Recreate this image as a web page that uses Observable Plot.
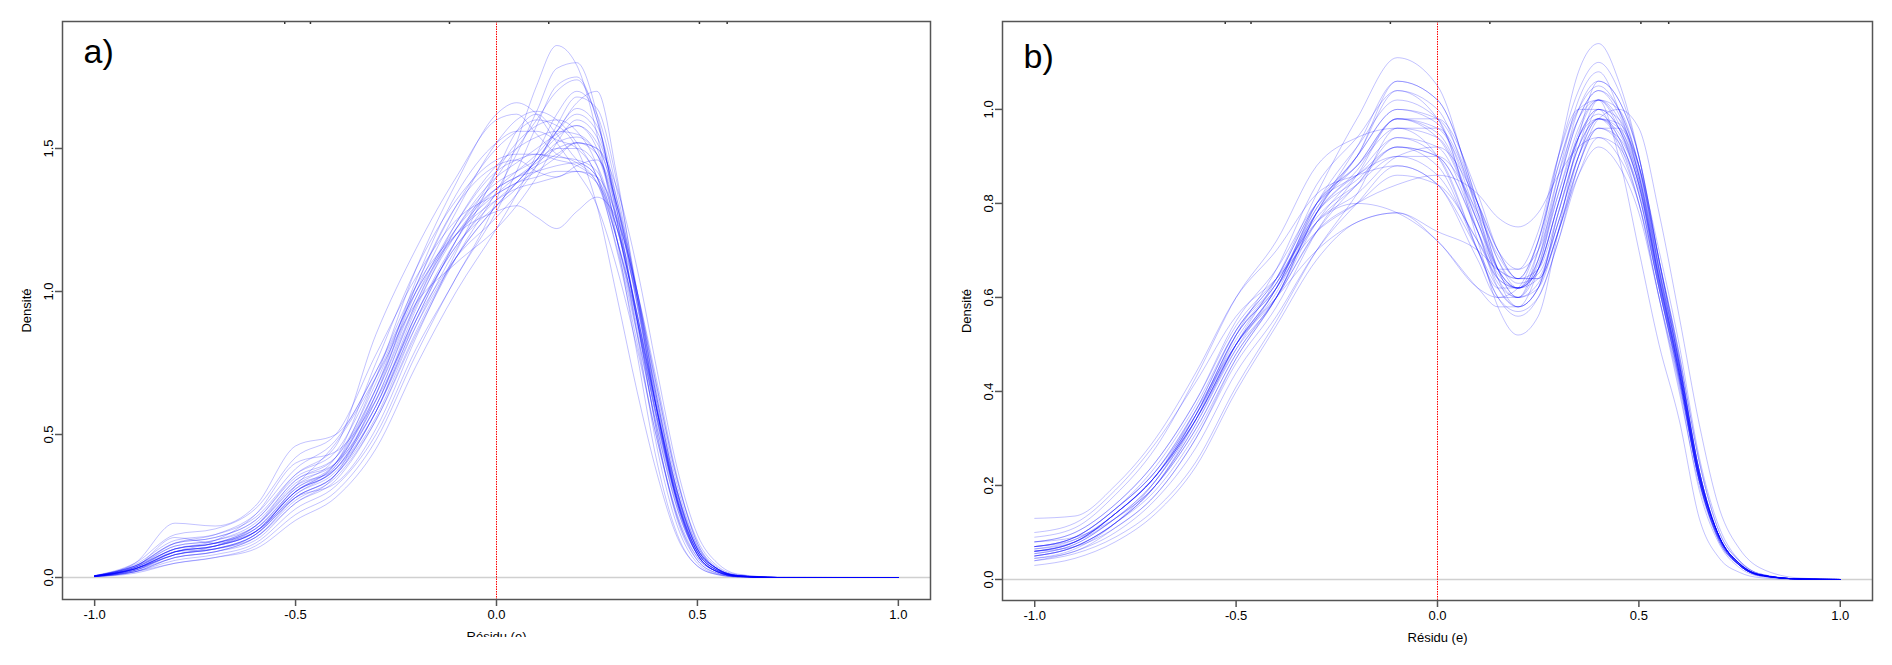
<!DOCTYPE html>
<html><head><meta charset="utf-8">
<script src="https://cdn.jsdelivr.net/npm/d3@7"></script>
<script src="https://cdn.jsdelivr.net/npm/@observablehq/plot@0.6"></script>
<style>
body{margin:0;background:#fff;}
#wrap{position:relative;width:1892px;height:665px;overflow:hidden;background:#fff;}
#pa{position:absolute;left:0;top:0;width:946px;height:637px;overflow:hidden;}
#pb{position:absolute;left:946px;top:0;width:946px;height:665px;overflow:hidden;}
</style></head><body><div id="wrap"><div id="pa"></div><div id="pb"></div></div>
<script>
// ---- shared axis values ----
const xTicks = [-1, -0.5, 0, 0.5, 1];
const xTickLabels = ["-1.0", "-0.5", "0.0", "0.5", "1.0"];
const topMarks = [-0.527, -0.463, -0.117, 0.13, 0.505, 0.574];
const xLabel = "Résidu (e)";
const yLabel = "Densité";

// ---- panel a ----
const yTicksA = [0, 0.5, 1, 1.5];
const yTickLabelsA = ["0.0", "0.5", "1.0", "1.5"];
const residuA = [-1, -0.9, -0.8, -0.7, -0.6, -0.5, -0.4, -0.3, -0.2, -0.1, 0, 0.05, 0.1, 0.15, 0.2, 0.25, 0.3, 0.35, 0.4, 0.45, 0.5, 0.55, 0.6, 0.7, 1.0];
const densitesA = [
  [0.003,0.02,0.06,0.08,0.12,0.24,0.32,0.50,0.80,1.05,1.32,1.52,1.72,1.86,1.79,1.55,1.18,0.78,0.40,0.15,0.04,0.01,0.002,0,0],
  [0.004,0.025,0.07,0.09,0.14,0.27,0.35,0.55,0.85,1.12,1.35,1.48,1.63,1.78,1.80,1.62,1.25,0.85,0.45,0.18,0.05,0.012,0.003,0,0],
  [0.005,0.03,0.08,0.10,0.15,0.28,0.36,0.58,0.90,1.18,1.40,1.50,1.60,1.70,1.74,1.60,1.28,0.90,0.50,0.20,0.06,0.015,0.003,0,0],
  [0.005,0.035,0.10,0.12,0.17,0.30,0.40,0.66,1.00,1.28,1.52,1.60,1.63,1.60,1.52,1.40,1.18,0.88,0.55,0.26,0.08,0.02,0.005,0,0],
  [0.006,0.04,0.12,0.14,0.20,0.36,0.46,0.85,1.15,1.40,1.60,1.62,1.55,1.48,1.45,1.38,1.15,0.85,0.52,0.24,0.08,0.02,0.004,0,0],
  [0.006,0.04,0.12,0.15,0.22,0.38,0.48,0.72,1.02,1.20,1.28,1.30,1.26,1.22,1.28,1.33,1.25,1.00,0.68,0.35,0.12,0.03,0.006,0,0],
  [0.007,0.05,0.15,0.17,0.24,0.42,0.50,0.78,1.05,1.25,1.34,1.38,1.40,1.42,1.42,1.38,1.22,0.98,0.66,0.34,0.12,0.035,0.008,0,0],
  [0.005,0.03,0.09,0.11,0.16,0.30,0.38,0.60,0.94,1.22,1.40,1.45,1.50,1.55,1.58,1.50,1.25,0.92,0.56,0.26,0.09,0.025,0.006,0,0],
  [0.004,0.025,0.08,0.10,0.15,0.29,0.37,0.58,0.92,1.18,1.36,1.42,1.48,1.56,1.62,1.56,1.30,0.95,0.58,0.27,0.09,0.025,0.006,0,0],
  [0.005,0.035,0.10,0.12,0.18,0.33,0.40,0.64,0.98,1.24,1.42,1.46,1.48,1.47,1.46,1.42,1.22,0.92,0.58,0.28,0.10,0.03,0.007,0,0],
  [0.004,0.02,0.07,0.09,0.13,0.26,0.34,0.55,0.86,1.12,1.30,1.38,1.46,1.56,1.66,1.70,1.40,0.98,0.58,0.26,0.08,0.02,0.004,0,0],
  [0.004,0.03,0.08,0.10,0.15,0.28,0.36,0.56,0.88,1.15,1.34,1.40,1.45,1.50,1.52,1.50,1.36,1.08,0.72,0.38,0.15,0.05,0.012,0.001,0],
  [0.006,0.04,0.11,0.13,0.19,0.34,0.42,0.68,1.02,1.30,1.50,1.56,1.60,1.58,1.50,1.30,0.98,0.65,0.36,0.14,0.04,0.01,0.002,0,0],
  [0.005,0.03,0.09,0.11,0.17,0.31,0.39,0.62,0.95,1.20,1.36,1.40,1.44,1.48,1.52,1.48,1.24,0.90,0.55,0.27,0.09,0.025,0.006,0,0],
  [0.003,0.02,0.05,0.07,0.11,0.22,0.30,0.48,0.78,1.05,1.28,1.42,1.58,1.72,1.75,1.60,1.28,0.90,0.50,0.21,0.07,0.02,0.004,0,0],
  [0.006,0.05,0.19,0.18,0.25,0.46,0.50,0.72,1.00,1.22,1.36,1.40,1.42,1.44,1.45,1.40,1.18,0.90,0.56,0.27,0.09,0.025,0.006,0,0],
  [0.003,0.015,0.05,0.07,0.10,0.20,0.28,0.45,0.74,1.00,1.22,1.34,1.48,1.62,1.70,1.62,1.35,0.98,0.58,0.26,0.08,0.02,0.004,0,0],
  [0.005,0.035,0.11,0.13,0.18,0.32,0.42,0.75,1.08,1.32,1.46,1.48,1.48,1.46,1.44,1.38,1.18,0.90,0.58,0.30,0.11,0.03,0.007,0,0],
  [0.005,0.03,0.09,0.11,0.16,0.30,0.38,0.60,0.92,1.16,1.32,1.38,1.46,1.56,1.64,1.58,1.32,0.96,0.58,0.27,0.09,0.024,0.005,0,0],
  [0.006,0.045,0.13,0.15,0.21,0.36,0.44,0.70,1.00,1.20,1.32,1.36,1.38,1.40,1.42,1.40,1.26,1.00,0.66,0.34,0.13,0.04,0.01,0.001,0],
  [0.004,0.025,0.08,0.10,0.14,0.28,0.36,0.58,0.90,1.18,1.42,1.52,1.58,1.60,1.56,1.44,1.18,0.86,0.52,0.24,0.08,0.02,0.004,0,0],
  [0.005,0.03,0.10,0.12,0.17,0.31,0.40,0.64,0.96,1.22,1.38,1.42,1.46,1.50,1.50,1.44,1.22,0.92,0.58,0.29,0.10,0.03,0.007,0,0],
  [0.004,0.03,0.09,0.11,0.16,0.30,0.40,0.70,1.08,1.38,1.62,1.66,1.62,1.52,1.42,1.30,1.08,0.80,0.48,0.22,0.07,0.02,0.004,0,0],
  [0.005,0.035,0.10,0.12,0.18,0.32,0.38,0.58,0.88,1.12,1.30,1.38,1.46,1.54,1.58,1.52,1.30,0.98,0.62,0.30,0.10,0.03,0.007,0,0],
  [0.004,0.03,0.09,0.11,0.16,0.30,0.38,0.62,0.96,1.24,1.44,1.50,1.54,1.56,1.55,1.48,1.24,0.90,0.54,0.25,0.08,0.02,0.005,0,0],
  [0.006,0.04,0.12,0.14,0.20,0.35,0.42,0.66,0.98,1.20,1.34,1.38,1.42,1.47,1.52,1.50,1.30,0.98,0.62,0.30,0.10,0.03,0.007,0,0],
  [0.004,0.03,0.09,0.10,0.15,0.32,0.47,0.70,0.96,1.10,1.22,1.30,1.40,1.52,1.60,1.54,1.32,1.00,0.62,0.30,0.10,0.03,0.006,0,0],
  [0.005,0.035,0.14,0.12,0.16,0.28,0.33,0.52,0.84,1.14,1.42,1.56,1.62,1.55,1.46,1.40,1.22,0.92,0.58,0.28,0.09,0.025,0.005,0,0],
  [0.006,0.04,0.10,0.13,0.22,0.40,0.44,0.62,0.90,1.12,1.26,1.34,1.44,1.58,1.68,1.64,1.38,1.00,0.60,0.27,0.08,0.02,0.004,0,0],
  [0.003,0.02,0.07,0.09,0.14,0.26,0.36,0.64,1.02,1.30,1.44,1.46,1.42,1.40,1.44,1.46,1.30,1.00,0.64,0.32,0.11,0.03,0.007,0,0],
  [0.005,0.03,0.08,0.11,0.18,0.34,0.40,0.60,0.92,1.16,1.30,1.36,1.44,1.52,1.54,1.48,1.28,0.96,0.60,0.29,0.10,0.03,0.007,0,0],
  [0.004,0.025,0.09,0.12,0.16,0.29,0.39,0.66,1.04,1.34,1.52,1.56,1.56,1.53,1.50,1.40,1.14,0.82,0.48,0.21,0.06,0.015,0.003,0,0]
];

// ---- panel b ----
const yTicksB = [0, 0.2, 0.4, 0.6, 0.8, 1.0];
const yTickLabelsB = ["0.0", "0.2", "0.4", "0.6", "0.8", "1.0"];
const residuB = [-1, -0.9, -0.8, -0.7, -0.6, -0.5, -0.4, -0.3, -0.2, -0.1, 0, 0.1, 0.15, 0.2, 0.25, 0.3, 0.35, 0.4, 0.45, 0.5, 0.55, 0.6, 0.65, 0.7, 0.75, 0.8, 0.9, 1.0];
const densitesB = [
  [0.05,0.07,0.12,0.20,0.33,0.50,0.64,0.82,0.98,1.11,1.05,0.78,0.64,0.58,0.62,0.78,0.92,0.98,0.93,0.80,0.60,0.40,0.20,0.08,0.03,0.008,0.001,0],
  [0.04,0.06,0.10,0.17,0.28,0.44,0.56,0.70,0.80,0.88,0.84,0.68,0.60,0.60,0.70,0.90,1.08,1.14,1.06,0.90,0.66,0.44,0.22,0.09,0.03,0.01,0.001,0],
  [0.03,0.045,0.08,0.14,0.24,0.40,0.54,0.68,0.76,0.78,0.74,0.70,0.66,0.64,0.72,0.88,1.00,1.05,1.00,0.88,0.68,0.48,0.25,0.10,0.04,0.012,0.001,0],
  [0.13,0.135,0.20,0.30,0.44,0.60,0.70,0.82,0.86,0.88,0.84,0.70,0.62,0.58,0.62,0.74,0.86,0.92,0.88,0.78,0.60,0.42,0.21,0.08,0.03,0.008,0.001,0],
  [0.065,0.08,0.14,0.22,0.35,0.52,0.63,0.79,0.88,0.98,0.95,0.76,0.64,0.60,0.66,0.80,0.94,1.00,0.96,0.85,0.64,0.45,0.22,0.09,0.033,0.01,0.001,0],
  [0.06,0.08,0.13,0.21,0.34,0.50,0.62,0.80,0.92,1.02,0.98,0.72,0.58,0.52,0.56,0.74,0.94,1.06,1.02,0.90,0.68,0.47,0.23,0.09,0.03,0.01,0.001,0],
  [0.07,0.09,0.15,0.23,0.36,0.50,0.60,0.74,0.80,0.84,0.86,0.82,0.77,0.75,0.78,0.86,0.92,0.94,0.90,0.80,0.62,0.42,0.21,0.08,0.03,0.008,0.001,0],
  [0.05,0.07,0.12,0.19,0.31,0.47,0.60,0.76,0.86,0.94,0.90,0.70,0.60,0.56,0.60,0.72,0.88,0.98,1.00,0.96,0.78,0.56,0.33,0.15,0.065,0.025,0.003,0],
  [0.07,0.09,0.15,0.23,0.36,0.53,0.64,0.80,0.88,0.98,0.94,0.76,0.66,0.64,0.72,0.88,1.00,1.02,0.90,0.70,0.50,0.34,0.13,0.045,0.015,0.004,0,0],
  [0.08,0.10,0.16,0.25,0.38,0.55,0.66,0.80,0.86,0.92,0.90,0.74,0.65,0.62,0.66,0.80,0.94,1.00,0.96,0.84,0.63,0.44,0.22,0.09,0.033,0.01,0.001,0],
  [0.055,0.075,0.13,0.20,0.32,0.48,0.60,0.78,0.90,1.04,1.00,0.78,0.66,0.62,0.66,0.80,0.94,0.99,0.94,0.82,0.62,0.43,0.21,0.085,0.03,0.009,0.001,0],
  [0.06,0.08,0.14,0.22,0.35,0.51,0.63,0.77,0.84,0.90,0.90,0.78,0.69,0.64,0.66,0.78,0.92,1.02,1.00,0.88,0.66,0.46,0.23,0.09,0.034,0.01,0.001,0],
  [0.09,0.11,0.18,0.28,0.43,0.60,0.72,0.88,0.94,0.96,0.90,0.70,0.60,0.57,0.60,0.72,0.86,0.94,0.92,0.82,0.62,0.43,0.21,0.085,0.03,0.009,0.001,0],
  [0.04,0.055,0.09,0.15,0.25,0.41,0.55,0.70,0.82,0.96,0.96,0.80,0.70,0.66,0.70,0.84,0.98,1.04,0.99,0.87,0.66,0.46,0.23,0.09,0.034,0.01,0.001,0],
  [0.07,0.085,0.14,0.22,0.35,0.52,0.62,0.76,0.84,0.94,0.92,0.74,0.63,0.60,0.68,0.86,1.02,1.08,1.00,0.86,0.64,0.44,0.21,0.085,0.03,0.009,0.001,0],
  [0.06,0.08,0.14,0.22,0.34,0.50,0.61,0.78,0.87,0.98,0.96,0.79,0.68,0.63,0.65,0.76,0.90,0.98,0.97,0.88,0.68,0.48,0.25,0.10,0.038,0.012,0.001,0],
  [0.08,0.10,0.16,0.25,0.38,0.54,0.64,0.76,0.80,0.78,0.72,0.62,0.58,0.58,0.66,0.84,1.00,1.06,1.02,0.90,0.68,0.47,0.23,0.09,0.034,0.01,0.001,0],
  [0.05,0.07,0.12,0.20,0.33,0.49,0.62,0.79,0.90,1.00,0.97,0.77,0.66,0.62,0.67,0.82,0.96,1.02,0.97,0.85,0.64,0.44,0.22,0.09,0.033,0.01,0.001,0],
  [0.065,0.085,0.14,0.22,0.34,0.50,0.62,0.80,0.90,1.06,1.02,0.80,0.66,0.60,0.63,0.76,0.90,0.96,0.93,0.83,0.63,0.44,0.22,0.09,0.033,0.01,0.001,0],
  [0.055,0.075,0.13,0.21,0.34,0.50,0.62,0.78,0.85,0.92,0.90,0.74,0.64,0.62,0.68,0.84,0.98,1.04,1.00,0.88,0.67,0.46,0.23,0.09,0.034,0.01,0.001,0],
  [0.10,0.12,0.19,0.29,0.42,0.56,0.64,0.74,0.80,0.86,0.84,0.72,0.64,0.62,0.68,0.82,0.94,0.98,0.94,0.82,0.62,0.43,0.21,0.085,0.03,0.009,0.001,0],
  [0.045,0.06,0.11,0.18,0.30,0.47,0.60,0.78,0.90,1.00,0.98,0.80,0.68,0.62,0.64,0.76,0.90,0.98,0.96,0.86,0.66,0.46,0.23,0.09,0.034,0.01,0.001,0],
  [0.07,0.09,0.15,0.23,0.35,0.50,0.60,0.70,0.76,0.78,0.72,0.62,0.60,0.62,0.72,0.90,1.04,1.10,1.04,0.90,0.68,0.46,0.23,0.09,0.034,0.01,0.001,0],
  [0.06,0.08,0.14,0.22,0.36,0.53,0.64,0.80,0.88,0.96,0.94,0.76,0.66,0.62,0.66,0.80,0.95,1.02,0.98,0.86,0.65,0.45,0.22,0.09,0.033,0.01,0.001,0],
  [0.08,0.09,0.13,0.20,0.32,0.48,0.60,0.74,0.84,0.92,0.88,0.70,0.62,0.62,0.70,0.86,0.98,1.02,0.96,0.84,0.63,0.43,0.21,0.085,0.03,0.009,0.001,0],
  [0.05,0.07,0.12,0.20,0.34,0.52,0.66,0.84,0.94,1.04,0.98,0.74,0.62,0.58,0.62,0.78,0.92,0.98,0.95,0.84,0.64,0.45,0.22,0.09,0.033,0.01,0.001,0],
  [0.06,0.07,0.11,0.18,0.30,0.46,0.58,0.74,0.86,0.98,0.98,0.82,0.70,0.64,0.64,0.74,0.88,0.96,0.96,0.88,0.70,0.50,0.26,0.11,0.04,0.012,0.001,0],
  [0.07,0.09,0.15,0.24,0.37,0.53,0.63,0.78,0.86,0.90,0.86,0.72,0.66,0.66,0.74,0.90,1.00,1.00,0.92,0.80,0.60,0.41,0.19,0.075,0.025,0.007,0.001,0],
  [0.045,0.065,0.12,0.21,0.35,0.52,0.62,0.76,0.82,0.90,0.92,0.80,0.70,0.64,0.64,0.74,0.90,1.00,0.98,0.86,0.65,0.45,0.22,0.09,0.033,0.01,0.001,0],
  [0.06,0.08,0.14,0.22,0.34,0.49,0.60,0.78,0.92,1.06,1.02,0.80,0.66,0.60,0.62,0.74,0.88,0.96,0.94,0.84,0.64,0.44,0.22,0.09,0.033,0.01,0.001,0]
];

function toRows(xs, curves) {
  const out = [];
  curves.forEach((c, k) => c.forEach((v, i) => out.push({id: k, x: xs[i], y: v})));
  return out;
}

const FONT = "'Liberation Sans', Arial, Helvetica, sans-serif";
const AXIS = "#555555";

function panel({rows, yDomain, yTicks, yTickLabels, tag, tagDy, marginLeft, marginRight, marginBottom}) {
  return Plot.plot({
    width: 946, height: 665,
    marginLeft, marginRight, marginTop: 21, marginBottom,
    x: {domain: [-1.08, 1.08]},
    y: {domain: yDomain},
    style: {fontFamily: FONT, fontSize: "13px", background: "white", color: "black", overflow: "hidden"},
    marks: [
      Plot.ruleY([0], {stroke: "#d0d0d0", strokeWidth: 1.5}),
      Plot.line(rows, {x: "x", y: "y", z: "id", stroke: "#0000ff", strokeOpacity: 0.24, strokeWidth: 1, curve: "monotone-x"}),
      Plot.ruleX([0], {stroke: "#ff0000", strokeWidth: 1, strokeDasharray: "1.5,1"}),
      Plot.frame({stroke: AXIS, strokeWidth: 1.5}),
      Plot.axisX(xTicks, {tickSize: 7, stroke: AXIS, strokeWidth: 1.5, fill: "none", label: null}),
      Plot.axisY(yTicks, {tickSize: 7, stroke: AXIS, strokeWidth: 1.5, fill: "none", label: null}),
      Plot.axisX(topMarks, {anchor: "top", tickSize: -2, stroke: "#333", strokeWidth: 1.5, fill: "none", label: null}),
      Plot.text(xTicks, {x: d => d, text: (d, i) => xTickLabels[i], frameAnchor: "bottom", dy: 15, lineAnchor: "middle", fill: "black", fontSize: 13}),
      Plot.text(yTicks, {y: d => d, text: (d, i) => yTickLabels[i], frameAnchor: "left", dx: -14, rotate: -90, lineAnchor: "middle", textAnchor: "middle", fill: "black", fontSize: 13}),
      Plot.text([yLabel], {text: d => d, frameAnchor: "left", dx: -36, rotate: -90, lineAnchor: "middle", textAnchor: "middle", fill: "black", fontSize: 13}),
      Plot.text([xLabel], {text: d => d, frameAnchor: "bottom", dy: 37, lineAnchor: "middle", textAnchor: "middle", fill: "black", fontSize: 13}),
      Plot.text([tag], {text: d => d, frameAnchor: "top-left", dx: 21, dy: tagDy, lineAnchor: "middle", textAnchor: "start", fill: "black", fontSize: 34})
    ]
  });
}

document.getElementById("pa").append(panel({
  rows: toRows(residuA, densitesA), yDomain: [-0.0769, 1.944],
  yTicks: yTicksA, yTickLabels: yTickLabelsA, tag: "a)", tagDy: 31,
  marginLeft: 62, marginRight: 16, marginBottom: 66
}));
document.getElementById("pb").append(panel({
  rows: toRows(residuB, densitesB), yDomain: [-0.0447, 1.187],
  yTicks: yTicksB, yTickLabels: yTickLabelsB, tag: "b)", tagDy: 36,
  marginLeft: 56, marginRight: 20, marginBottom: 65
}));
</script>
</body></html>
